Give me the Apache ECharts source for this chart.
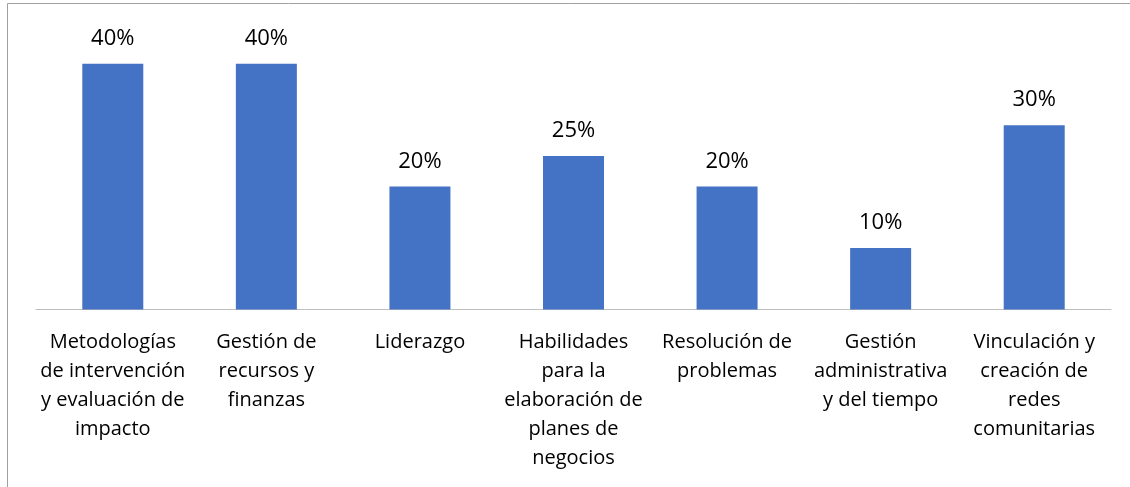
<!DOCTYPE html>
<html><head><meta charset="utf-8">
<script src="https://cdn.jsdelivr.net/npm/echarts@6/dist/echarts.min.js"></script>
<style>html,body{margin:0;padding:0;background:#fff}#c{width:1130px;height:487px}</style>
</head><body><div id="c"></div>
<script>
const categories = [
  "Metodologías\nde intervención\ny evaluación de\nimpacto",
  "Gestión de\nrecursos y\nfinanzas",
  "Liderazgo",
  "Habilidades\npara la\nelaboración de\nplanes de\nnegocios",
  "Resolución de\nproblemas",
  "Gestión\nadministrativa\ny del tiempo",
  "Vinculación y\ncreación de\nredes\ncomunitarias"
];
const values = [40, 40, 20, 25, 20, 10, 30];

const chart = echarts.init(document.getElementById('c'));
const font = "'Open Sans', sans-serif";
chart.setOption({
  animation: false,
  graphic: [{
    type: 'rect', silent: true,
    shape: { x: 7.5, y: 3.5, width: 1200, height: 600 },
    style: { fill: 'none', stroke: '#a0a0a0', lineWidth: 1 }
  }],
  grid: { left: 36, top: 33, width: 1075, height: 276.5 },
  xAxis: {
    type: 'category', data: categories,
    axisTick: { show: false },
    axisLine: { lineStyle: { color: '#bfbfbf', width: 1 } },
    axisLabel: { interval: 0, color: '#000', fontFamily: font, fontSize: 20, lineHeight: 29, margin: 18 }
  },
  yAxis: { type: 'value', min: 0, max: 45, show: false, splitLine: { show: false } },
  series: [{
    type: 'bar', data: values, barWidth: 61,
    itemStyle: { color: '#4472C4' },
    label: { show: true, position: 'top', distance: 14, formatter: '{c}%', color: '#000', fontFamily: font, fontSize: 22 }
  }]
});
</script></body></html>
